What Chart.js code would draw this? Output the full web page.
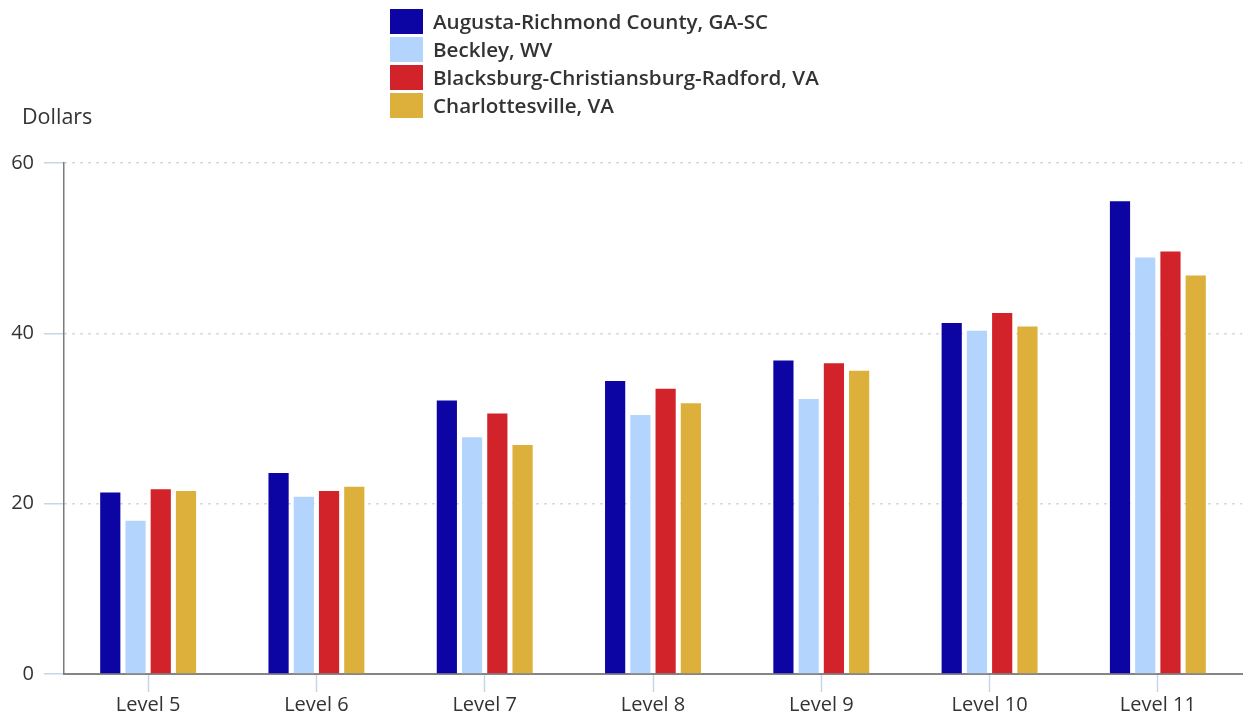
<!DOCTYPE html>
<html>
<head>
<meta charset="utf-8">
<script src="https://cdn.jsdelivr.net/npm/chart.js@4.4.1/dist/chart.umd.min.js"></script>
<style>
    body { margin: 0; background: #fff; }
    #wrap { position: relative; width: 1243px; height: 719px; }
    #legend { position: absolute; left: 390px; top: 7px; font-family: 'Open Sans', sans-serif; font-weight: 600; font-size: 20.6px; color: #333; }
    .item { display: flex; align-items: center; height: 28px; }
    .box { width: 33px; height: 25px; margin-right: 10px; }
    #ytitle { position: absolute; left: 22px; top: 101px; font-family: 'Open Sans', sans-serif; font-size: 21.5px; color: #333; }
</style>
</head>
<body>
<div id="wrap">
    <canvas id="myChart" width="1243" height="719"></canvas>
    <div id="legend"></div>
    <div id="ytitle">Dollars</div>
</div>
<script>
'use strict';

let levels = ['Level 5', 'Level 6', 'Level 7', 'Level 8', 'Level 9', 'Level 10', 'Level 11'];
let seriesNames = [
    'Augusta-Richmond County, GA-SC',
    'Beckley, WV',
    'Blacksburg-Christiansburg-Radford, VA',
    'Charlottesville, VA'
];
let augusta = [21.3, 23.6, 32.1, 34.4, 36.8, 41.2, 55.5];
let beckley = [18.0, 20.8, 27.8, 30.4, 32.3, 40.3, 48.9];
let blacksburg = [21.7, 21.5, 30.6, 33.5, 36.5, 42.4, 49.6];
let charlottesville = [21.5, 22.0, 26.9, 31.8, 35.6, 40.8, 46.8];
let yTicks = [0, 20, 40, 60];

let colors = ['#0c04a3', '#b3d4fc', '#d2232a', '#dcb03a'];
let seriesData = [augusta, beckley, blacksburg, charlottesville];

let datasets = [];
for (let i = 0; i < seriesNames.length; i++) {
    datasets.push({
        label: seriesNames[i],
        data: seriesData[i],
        backgroundColor: colors[i],
        categoryPercentage: 0.6,
        barPercentage: 0.8
    });
}

// html legend, stacked list like the original
let legendEl = document.getElementById('legend');
for (let i = 0; i < seriesNames.length; i++) {
    let row = document.createElement('div');
    row.className = 'item';
    let box = document.createElement('div');
    box.className = 'box';
    box.style.background = colors[i];
    let txt = document.createElement('span');
    txt.textContent = seriesNames[i];
    row.appendChild(box);
    row.appendChild(txt);
    legendEl.appendChild(row);
}

let tickFont = { family: "'Open Sans', sans-serif", size: 20 };

let ctx = document.getElementById('myChart').getContext('2d');
new Chart(ctx, {
    type: 'bar',
    data: {
        labels: levels,
        datasets: datasets
    },
    options: {
        responsive: false,
        animation: false,
        layout: { padding: { top: 163, right: 1, left: 0, bottom: 0 } },
        plugins: {
            legend: { display: false },
            tooltip: { enabled: false }
        },
        scales: {
            x: {
                afterFit: function (scale) { scale.height = 45; },
                grid: {
                    offset: false,
                    drawOnChartArea: false,
                    tickLength: 18,
                    tickColor: '#c5d6ea',
                    tickWidth: 1.5
                },
                border: { color: '#858585', width: 2 },
                ticks: { color: '#333', font: tickFont, padding: 1 }
            },
            y: {
                min: 0,
                max: 60,
                afterFit: function (scale) { scale.width = 64; },
                afterBuildTicks: function (scale) {
                    scale.ticks = yTicks.map(v => ({ value: v }));
                },
                grid: {
                    color: c => c.tick && c.tick.value === 0 ? 'rgba(0,0,0,0)' : '#c8c8c8',
                    lineWidth: 1.5,
                    tickLength: 20,
                    tickColor: '#c5d6ea',
                    tickWidth: 1.5,
                    tickBorderDash: []
                },
                border: { color: '#7a7a7a', width: 1.5, dash: [2, 6] },
                ticks: { color: '#333', font: tickFont, padding: 10 }
            }
        }
    }
});
</script>
</body>
</html>
